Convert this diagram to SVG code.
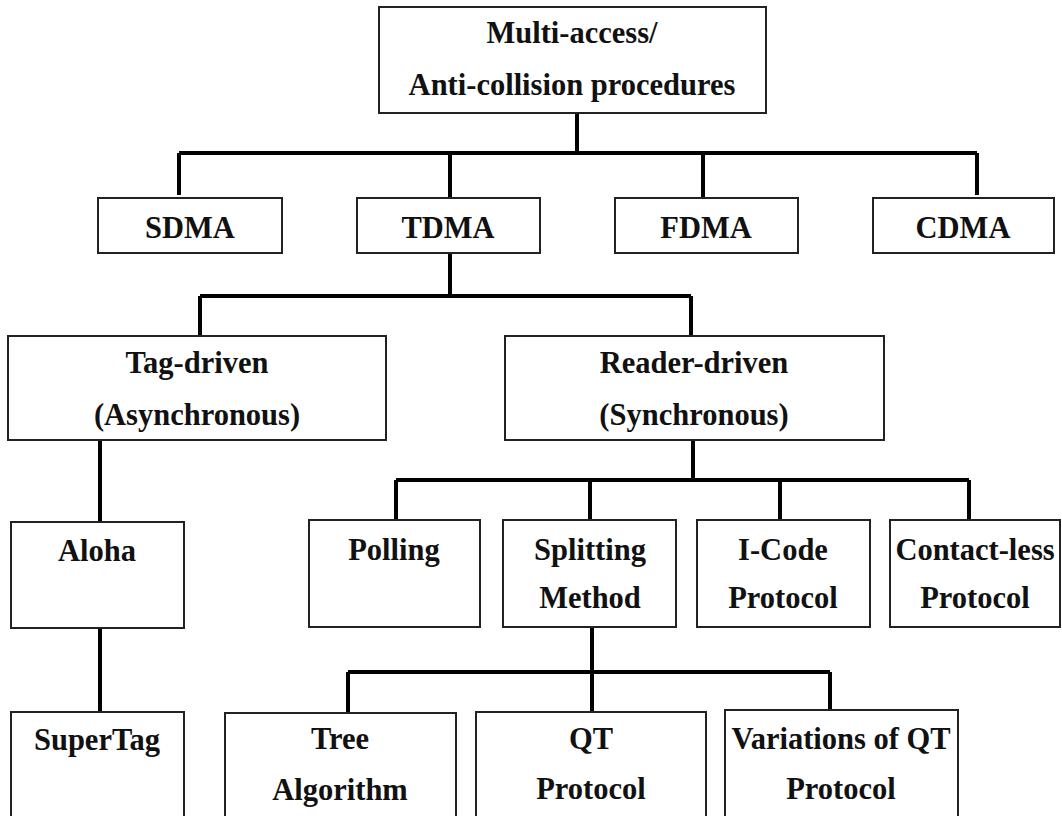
<svg xmlns="http://www.w3.org/2000/svg" width="1062" height="816" viewBox="0 0 1062 816">
<style>
.box{fill:#fff;stroke:#222;stroke-width:2}
.t{font-family:"Liberation Serif","Times New Roman",serif;font-weight:bold;font-size:30.5px;fill:#111;text-anchor:middle}
.c{fill:none;stroke:#000;stroke-width:4}
</style>
<rect width="1062" height="816" fill="#fff"/>
<g id="connectors">
<path class="c" d="M577,113 V153 M179,153 H977 M179,153 V195 M450,153 V198 M703,153 V198 M977,153 V195"/>
<path class="c" d="M450,253 V296 M200,296 H691 M200,296 V336 M691,296 V336"/>
<path class="c" d="M693,440 V480 M396,480 H969 M396,480 V520 M590,480 V520 M780,480 V520 M969,480 V520"/>
<path class="c" d="M100,440 V522 M100,628 V712"/>
<path class="c" d="M592,627 V712 M348,672 H830 M348,672 V713 M830,672 V710"/>
</g>
<g id="root"><rect class="box" x="379" y="7" width="387" height="106"/><text class="t" x="572" y="43">Multi-access/</text><text class="t" x="572" y="95">Anti-collision procedures</text></g>
<g id="sdma"><rect class="box" x="98" y="198" width="184" height="55"/><text class="t" x="190" y="238">SDMA</text></g>
<g id="tdma"><rect class="box" x="357" y="198" width="183" height="55"/><text class="t" x="448" y="238">TDMA</text></g>
<g id="fdma"><rect class="box" x="615" y="198" width="183" height="55"/><text class="t" x="706" y="238">FDMA</text></g>
<g id="cdma"><rect class="box" x="873" y="198" width="181" height="55"/><text class="t" x="963" y="238">CDMA</text></g>
<g id="tag-driven"><rect class="box" x="8" y="336" width="378" height="104"/><text class="t" x="197" y="373">Tag-driven</text><text class="t" x="197" y="425">(Asynchronous)</text></g>
<g id="reader-driven"><rect class="box" x="505" y="336" width="379" height="104"/><text class="t" x="694" y="373">Reader-driven</text><text class="t" x="694" y="425">(Synchronous)</text></g>
<g id="aloha"><rect class="box" x="11" y="522" width="173" height="106"/><text class="t" x="97" y="561">Aloha</text></g>
<g id="polling"><rect class="box" x="309" y="520" width="171" height="107"/><text class="t" x="394" y="560">Polling</text></g>
<g id="splitting"><rect class="box" x="503" y="520" width="173" height="107"/><text class="t" x="590" y="560">Splitting</text><text class="t" x="590" y="608">Method</text></g>
<g id="icode"><rect class="box" x="697" y="520" width="173" height="107"/><text class="t" x="783" y="560">I-Code</text><text class="t" x="783" y="608">Protocol</text></g>
<g id="contactless"><rect class="box" x="890" y="520" width="170" height="107"/><text class="t" x="975" y="560">Contact-less</text><text class="t" x="975" y="608">Protocol</text></g>
<g id="supertag"><rect class="box" x="11" y="712" width="173" height="120"/><text class="t" x="97" y="750">SuperTag</text></g>
<g id="tree"><rect class="box" x="225" y="713" width="231" height="120"/><text class="t" x="340" y="749">Tree</text><text class="t" x="340" y="800">Algorithm</text></g>
<g id="qt"><rect class="box" x="476" y="712" width="230" height="120"/><text class="t" x="591" y="749">QT</text><text class="t" x="591" y="799">Protocol</text></g>
<g id="variations"><rect class="box" x="725" y="710" width="233" height="122"/><text class="t" x="841" y="749">Variations of QT</text><text class="t" x="841" y="799">Protocol</text></g>
</svg>
